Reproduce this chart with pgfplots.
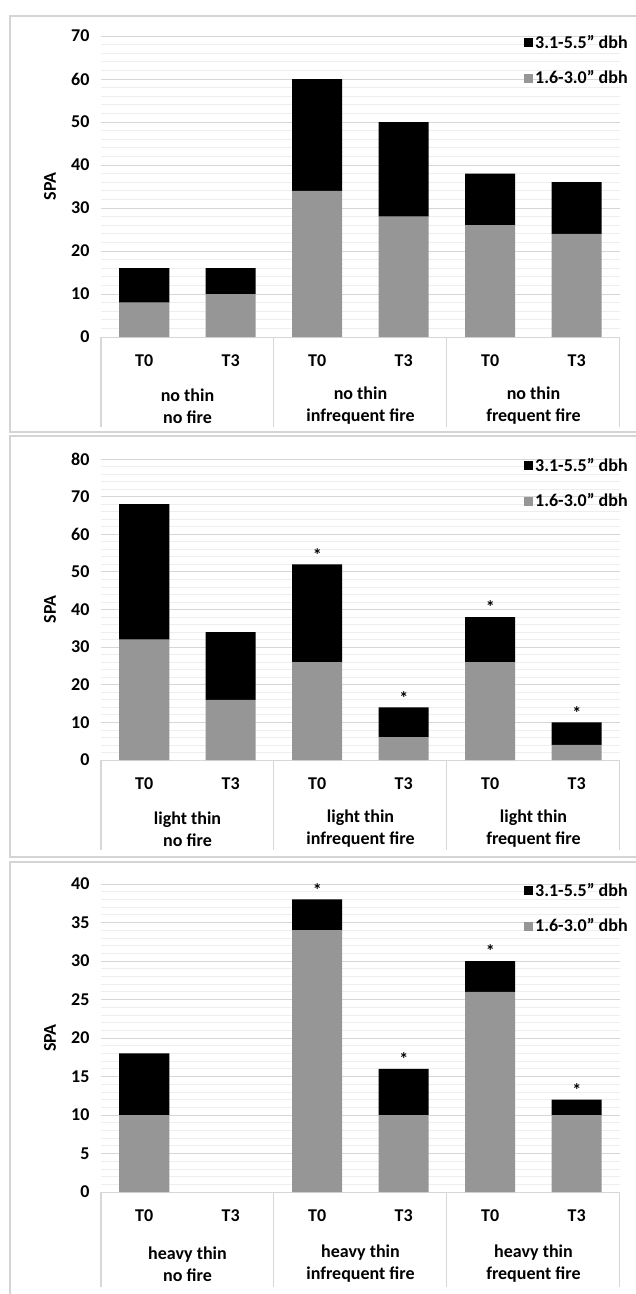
\documentclass[border=0pt]{standalone}
\usepackage{pgfplots}
\pgfplotsset{compat=1.18}
\usepackage{fontspec}
\setmainfont{Carlito}
\definecolor{bargray}{RGB}{150,150,150}
\definecolor{gridmaj}{RGB}{215,215,215}
\definecolor{gridmin}{RGB}{238,238,238}
\definecolor{framec}{RGB}{212,212,212}
\newcommand{\fnt}{\bfseries\fontsize{18}{22}\selectfont}
\pgfplotsset{
  panel/.style={
    scale only axis, width=519pt,
    xmin=-0.5, xmax=5.5, ymin=0,
    ybar stacked, bar width=50pt,
    axis line style={draw=none},
    major tick length=0pt, minor tick length=0pt,
    xtick={0,...,5}, xticklabels={T0,T3,T0,T3,T0,T3},
    xticklabel style={yshift=-14pt},
    yticklabel style={xshift=-8pt},
    ticklabel style={font=\fnt},
    /pgf/number format/assume math mode=true,
    ymajorgrids, yminorgrids,
    major grid style={gridmaj, line width=1pt},
    minor grid style={gridmin, line width=0.8pt},
    ylabel={SPA},
    ylabel style={font=\fnt, at={(axis description cs:-0.098,0.5)}, anchor=center},
    legend style={at={(axis description cs:0.815,1.01)}, anchor=north west,
      draw=none, fill=none, inner sep=0pt, row sep=17pt, font=\fnt,
      legend cell align=left},
    reverse legend,
    clip=false,
    legend image code/.code={\fill[##1] (0pt,-4.5pt) rectangle (9pt,4.5pt);},
  },
  stars/.style={
    scale only axis, width=519pt,
    xmin=-0.5, xmax=5.5, ymin=0, hide axis, clip=false,
    ybar, bar width=50pt,
  },
  gbar/.style={fill=bargray, draw=none},
  kbar/.style={fill=black, draw=none},
  sbar/.style={draw=none, fill=none, nodes near coords={*},
    nodes near coords style={font=\fnt, anchor=south, inner sep=3pt}},
}
\newcommand{\boxlines}[1]{%
  \draw[gridmaj, line width=1pt] (rel axis cs:0,0) -- (rel axis cs:1,0);
  \pgfplotsinvokeforeach{-0.5,1.5,3.5,5.5}{\draw[gridmaj, line width=1pt] (axis cs:##1,0) -- ++(0pt,-#1pt);}%
}
\begin{document}
\begin{tikzpicture}
\useasboundingbox (0pt,0pt) rectangle (636pt,-1294pt);
\draw[framec, line width=2.5pt] (10pt,-16pt) rectangle (660pt,-432pt);
\draw[framec, line width=2.5pt] (10pt,-436pt) rectangle (660pt,-857pt);
\draw[framec, line width=2.5pt] (10pt,-862pt) rectangle (660pt,-1298pt);

% Panel 1
\begin{axis}[panel, at={(101pt,-337pt)}, anchor=south west, height=301pt,
  ymax=70, ytick distance=10, minor y tick num=4]
\addplot[gbar] coordinates {(0,8) (1,10) (2,34) (3,28) (4,26) (5,24)};
\addplot[kbar] coordinates {(0,8) (1,6) (2,26) (3,22) (4,12) (5,12)};
\legend{1.6-3.0" dbh, 3.1-5.5" dbh}
\boxlines{90}
\node[font=\fnt, align=center] at (axis cs:0.5,0) [yshift=-69pt] {no thin\\no fire};
\node[font=\fnt, align=center] at (axis cs:2.5,0) [yshift=-69pt] {no thin\\infrequent fire};
\node[font=\fnt, align=center] at (axis cs:4.5,0) [yshift=-69pt] {no thin\\frequent fire};
\end{axis}

% Panel 2
\begin{axis}[panel, at={(101pt,-760pt)}, anchor=south west, height=301pt,
  ymax=80, ytick distance=10, minor y tick num=4]
\addplot[gbar] coordinates {(0,32) (1,16) (2,26) (3,6) (4,26) (5,4)};
\addplot[kbar] coordinates {(0,36) (1,18) (2,26) (3,8) (4,12) (5,6)};
\legend{1.6-3.0" dbh, 3.1-5.5" dbh}
\boxlines{90}
\node[font=\fnt, align=center] at (axis cs:0.5,0) [yshift=-69pt] {light thin\\no fire};
\node[font=\fnt, align=center] at (axis cs:2.5,0) [yshift=-69pt] {light thin\\infrequent fire};
\node[font=\fnt, align=center] at (axis cs:4.5,0) [yshift=-69pt] {light thin\\frequent fire};
\end{axis}
\begin{axis}[stars, at={(101pt,-760pt)}, anchor=south west, height=301pt, ymax=80]
\addplot[sbar] coordinates {(2,52) (3,14) (4,38) (5,10)};
\end{axis}

% Panel 3
\begin{axis}[panel, at={(101pt,-1192pt)}, anchor=south west, height=308pt,
  ymax=40, ytick distance=5, minor y tick num=4]
\addplot[gbar] coordinates {(0,10) (1,0) (2,34) (3,10) (4,26) (5,10)};
\addplot[kbar] coordinates {(0,8) (1,0) (2,4) (3,6) (4,4) (5,2)};
\legend{1.6-3.0" dbh, 3.1-5.5" dbh}
\boxlines{95}
\node[font=\fnt, align=center] at (axis cs:0.5,0) [yshift=-72pt] {heavy thin\\no fire};
\node[font=\fnt, align=center] at (axis cs:2.5,0) [yshift=-72pt] {heavy thin\\infrequent fire};
\node[font=\fnt, align=center] at (axis cs:4.5,0) [yshift=-72pt] {heavy thin\\frequent fire};
\end{axis}
\begin{axis}[stars, at={(101pt,-1192pt)}, anchor=south west, height=308pt, ymax=40]
\addplot[sbar] coordinates {(2,38) (3,16) (4,30) (5,12)};
\end{axis}
\end{tikzpicture}
\end{document}
